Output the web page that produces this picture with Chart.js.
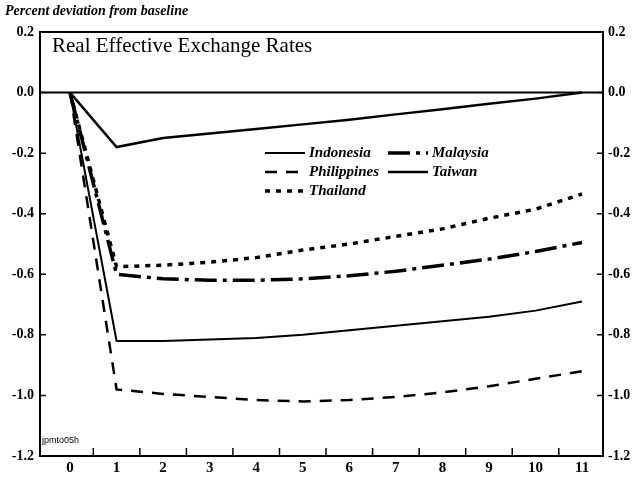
<!DOCTYPE html>
<html>
<head>
<meta charset="utf-8">
<script src="https://cdn.jsdelivr.net/npm/chart.js@4.4.1/dist/chart.umd.min.js"></script>
<style>
  html, body { margin: 0; padding: 0; background: #fff; }
  #wrap { width: 643px; height: 478px; }
</style>
</head>
<body>
<div id="wrap"><canvas id="chart"></canvas></div>
<script>
// periods after the shock
const periods = [0, 1, 2, 3, 4, 5, 6, 7, 8, 9, 10, 11];
const yTicks = [0.2, 0.0, -0.2, -0.4, -0.6, -0.8, -1.0, -1.2];

// percent deviation from baseline
const taiwan      = [0, -0.18, -0.15, -0.135, -0.12, -0.105, -0.09, -0.072, -0.055, -0.037, -0.02, 0.0];
const indonesia   = [0, -0.82, -0.82, -0.815, -0.81, -0.80, -0.785, -0.77, -0.755, -0.74, -0.72, -0.69];
const philippines = [0, -0.98, -0.995, -1.005, -1.015, -1.02, -1.015, -1.005, -0.99, -0.97, -0.945, -0.92];
const malaysia    = [0, -0.60, -0.615, -0.62, -0.62, -0.615, -0.605, -0.59, -0.57, -0.55, -0.525, -0.495];
const thailand    = [0, -0.575, -0.57, -0.56, -0.545, -0.52, -0.50, -0.475, -0.45, -0.415, -0.385, -0.335];

const series = [
    { label: 'Indonesia',   data: indonesia,   width: 2,   dash: [] },
    { label: 'Malaysia',    data: malaysia,    width: 3.5, dash: [22, 6, 4, 6] },
    { label: 'Philippines', data: philippines, width: 2.5, dash: [12, 9] },
    { label: 'Taiwan',      data: taiwan,      width: 2.5, dash: [] },
    { label: 'Thailand',    data: thailand,    width: 3.5, dash: [5, 6] }
];

function toPoints(arr) {
    return arr.map((v, i) => ({ x: periods[i], y: v }));
}

const serif = '"Liberation Serif", "Times New Roman", serif';

// frame, inner ticks, titles and legend
const decorations = {
    id: 'decorations',
    afterDraw(chart) {
        const ctx = chart.ctx;
        const a = chart.chartArea;
        const x = chart.scales.x;
        const y = chart.scales.y;
        ctx.save();
        ctx.strokeStyle = '#000';
        ctx.fillStyle = '#000';

        // box
        ctx.lineWidth = 2;
        ctx.strokeRect(a.left, a.top, a.right - a.left, a.bottom - a.top);

        // zero line
        const y0 = y.getPixelForValue(0);
        ctx.beginPath();
        ctx.moveTo(a.left, y0);
        ctx.lineTo(a.right, y0);
        ctx.stroke();

        // inner ticks
        ctx.lineWidth = 1.5;
        yTicks.forEach(v => {
            const py = y.getPixelForValue(v);
            ctx.beginPath();
            ctx.moveTo(a.left, py); ctx.lineTo(a.left + 6, py);
            ctx.moveTo(a.right, py); ctx.lineTo(a.right - 6, py);
            ctx.stroke();
        });
        periods.slice(0, -1).forEach(v => {
            const px = x.getPixelForValue(v + 0.5);
            ctx.beginPath();
            ctx.moveTo(px, a.bottom); ctx.lineTo(px, a.bottom - 8);
            ctx.stroke();
        });

        // texts
        ctx.textBaseline = 'middle';
        ctx.textAlign = 'left';
        ctx.font = 'italic bold 14px ' + serif;
        ctx.fillText('Percent deviation from baseline', 5, 11);
        ctx.font = '21px ' + serif;
        ctx.fillText('Real Effective Exchange Rates', a.left + 12, 46);
        ctx.font = '9px "Liberation Sans", sans-serif';
        ctx.fillText('jpmto05h', a.left + 2, 441);

        // legend
        const cells = [
            [series[0], 265, 153], [series[1], 388, 153],
            [series[2], 265, 172], [series[3], 388, 172],
            [series[4], 265, 191]
        ];
        ctx.font = 'italic bold 15px ' + serif;
        cells.forEach(([s, lx, ly]) => {
            ctx.lineWidth = s.width;
            ctx.setLineDash(s.dash);
            ctx.beginPath();
            ctx.moveTo(lx, ly);
            ctx.lineTo(lx + 40, ly);
            ctx.stroke();
            ctx.setLineDash([]);
            ctx.fillText(s.label, lx + 44, ly);
        });
        ctx.restore();
    }
};

const yAxis = (pos) => ({
    type: 'linear',
    position: pos,
    min: -1.2,
    max: 0.2,
    afterBuildTicks: s => { s.ticks = yTicks.map(v => ({ value: v })); },
    afterFit: s => { s.width = 40; },
    grid: { display: false, drawTicks: false },
    border: { display: false },
    ticks: {
        color: '#000',
        padding: pos === 'left' ? 6 : 5,
        font: { family: serif, size: 14, weight: 'bold' },
        callback: v => v.toFixed(1)
    }
});

new Chart(document.getElementById('chart'), {
    type: 'line',
    data: {
        datasets: series.map(s => ({
            label: s.label,
            data: toPoints(s.data),
            borderColor: '#000',
            borderWidth: s.width,
            borderDash: s.dash,
            pointRadius: 0,
            tension: 0,
            fill: false,
            yAxisID: 'y'
        }))
    },
    options: {
        responsive: true,
        maintainAspectRatio: false,
        animation: false,
        devicePixelRatio: 1,
        layout: { padding: { top: 32, left: 0, right: 0, bottom: 0 } },
        plugins: {
            legend: { display: false },
            tooltip: { enabled: false }
        },
        scales: {
            x: {
                type: 'linear',
                position: 'bottom',
                min: -0.645,
                max: 11.45,
                afterBuildTicks: s => { s.ticks = periods.map(v => ({ value: v })); },
                afterFit: s => { s.height = 22; },
                grid: { display: false, drawTicks: false },
                border: { display: false },
                ticks: {
                    color: '#000',
                    padding: 3,
                    maxRotation: 0,
                    autoSkip: false,
                    font: { family: serif, size: 15, weight: 'bold' }
                }
            },
            y: yAxis('left'),
            y2: yAxis('right')
        }
    },
    plugins: [decorations]
});
</script>
</body>
</html>
